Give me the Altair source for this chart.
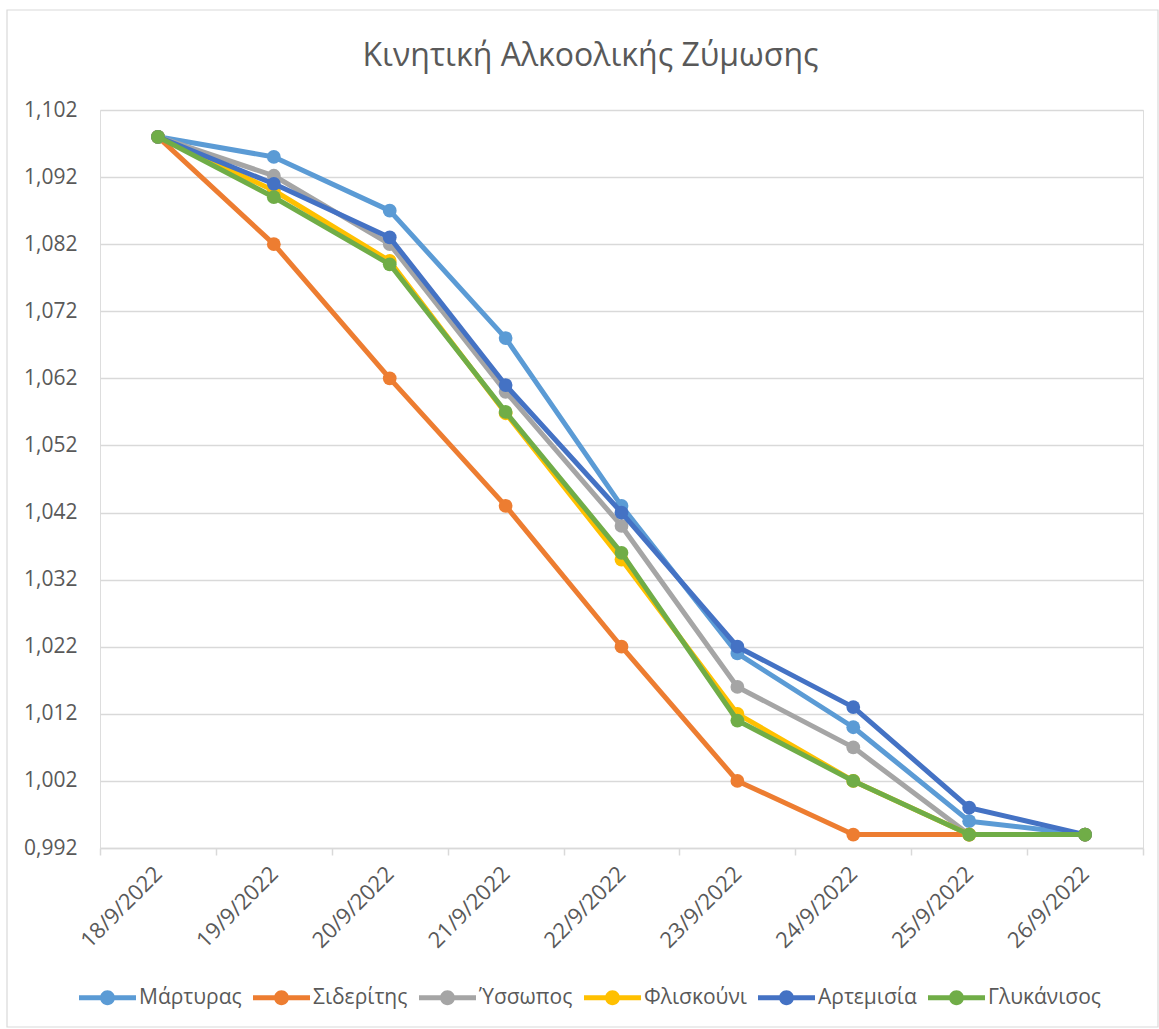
import altair as alt
import pandas as pd

dates = ["18/9/2022", "19/9/2022", "20/9/2022", "21/9/2022", "22/9/2022",
         "23/9/2022", "24/9/2022", "25/9/2022", "26/9/2022"]
series_names = ["Μάρτυρας", "Σιδερίτης", "Ύσσωπος", "Φλισκούνι", "Αρτεμισία", "Γλυκάνισος"]
series_colors = ["#5B9BD5", "#ED7D31", "#A5A5A5", "#FFC000", "#4472C4", "#70AD47"]

martyras = [1.098, 1.095, 1.087, 1.068, 1.043, 1.021, 1.010, 0.996, 0.994]
sideritis = [1.098, 1.082, 1.062, 1.043, 1.022, 1.002, 0.994, 0.994, 0.994]
yssopos = [1.098, 1.0922, 1.082, 1.060, 1.040, 1.016, 1.007, 0.994, 0.994]
fliskouni = [1.098, 1.090, 1.0795, 1.0568, 1.035, 1.012, 1.002, 0.994, 0.994]
artemisia = [1.098, 1.091, 1.083, 1.061, 1.042, 1.022, 1.013, 0.998, 0.994]
glykanisos = [1.098, 1.089, 1.079, 1.057, 1.036, 1.011, 1.002, 0.994, 0.994]

y_ticks = [0.992, 1.002, 1.012, 1.022, 1.032, 1.042, 1.052, 1.062, 1.072, 1.082, 1.092, 1.102]
title_text = "Κινητική Αλκοολικής Ζύμωσης"

all_values = [martyras, sideritis, yssopos, fliskouni, artemisia, glykanisos]
rows = []
for name, vals in zip(series_names, all_values):
    for d, v in zip(dates, vals):
        rows.append({"date": d, "series": name, "value": v})
df = pd.DataFrame(rows)

FONT = "Open Sans"
TXT = "#595959"
GRID = "#D9D9D9"

x_enc = alt.X(
    "date:N",
    sort=dates,
    scale=alt.Scale(type="band", paddingInner=0, paddingOuter=0),
    axis=alt.Axis(
        title=None, grid=False, tickBand="extent", domainColor=GRID, domainWidth=1.5,
        tickColor=GRID, tickWidth=1.5, tickSize=7, labelAngle=-45, labelAlign="right",
        labelBaseline="middle", labelPadding=15, labelFont=FONT, labelFontSize=22,
        labelColor=TXT,
    ),
)
y_enc = alt.Y(
    "value:Q",
    scale=alt.Scale(domain=[0.992, 1.102], nice=False, zero=False),
    axis=alt.Axis(
        title=None, values=y_ticks, labelExpr="replace(format(datum.value, '.3f'), '.', ',')",
        grid=True, gridColor=GRID, gridWidth=1.5, domain=False, ticks=False,
        labelPadding=23, labelFont=FONT, labelFontSize=21, labelColor=TXT,
    ),
)

legend_path = ("M-1,-0.09L1,-0.09L1,0.09L-1,0.09Z "
               "M-0.26,0A0.26,0.26 0 1,1 0.26,0A0.26,0.26 0 1,1 -0.26,0Z")

color_enc = alt.Color(
    "series:N",
    scale=alt.Scale(domain=series_names, range=series_colors),
    legend=alt.Legend(
        title=None, orient="none", legendX=-21, legendY=859, direction="horizontal",
        symbolType=legend_path, symbolSize=3249, symbolStrokeWidth=0, symbolOpacity=1,
        labelFont=FONT, labelFontSize=21, labelColor=TXT, labelOffset=3,
        columnPadding=11, padding=0,
    ),
)

border = alt.Chart(alt.Data(values=[{}])).mark_rect(
    filled=False, stroke=GRID, strokeWidth=1.2
).encode(
    x=alt.value(-93), x2=alt.value(1058), y=alt.value(-100), y2=alt.value(917)
)

layers = [border]
base = alt.Chart(df)
for name, col in zip(series_names, series_colors):
    sub = base.transform_filter(alt.datum.series == name)
    line = sub.mark_line(strokeWidth=5, color=col, strokeCap="round", strokeJoin="round").encode(
        x=x_enc, y=y_enc
    )
    pts = sub.mark_point(filled=True, shape="circle", size=190, opacity=1).encode(
        x=x_enc, y=y_enc, color=color_enc
    )
    layers += [line, pts]

chart = alt.layer(*layers).properties(
    width=1043,
    height=738,
    padding={"left": 100, "top": 110, "right": 16, "bottom": 181},
    autosize=alt.AutoSizeParams(type="none"),
    title=alt.TitleParams(
        text=title_text, font=FONT, fontSize=32, fontWeight="normal", color=TXT,
        frame="group", anchor="middle", baseline="middle", offset=0, dx=-31, dy=79,
    ),
).configure_view(stroke=None).configure(background="white")

chart.save("out.html", embed_options={"renderer": "svg", "actions": False})
